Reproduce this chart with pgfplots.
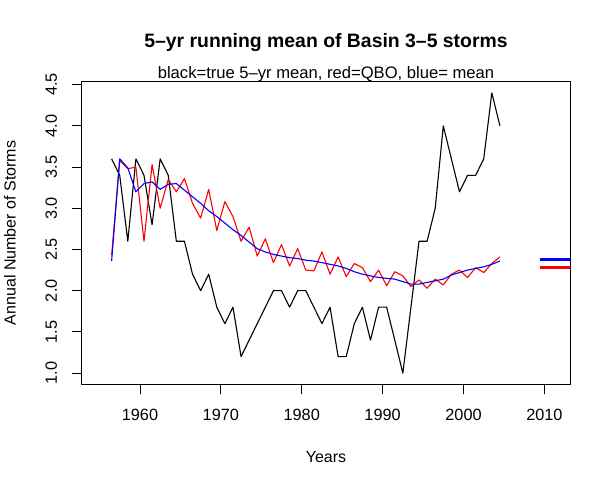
\documentclass[border=0pt]{standalone}
\usepackage{fontspec}
\setmainfont{Liberation Sans}
\usepackage{pgfplots}
\usepackage{pgfplotstable}
\pgfplotsset{compat=1.18}

% year, true 5-yr mean (black), QBO (red), mean (blue)
\pgfplotstableread{
year   true  qbo   mean
1956.5 3.6   2.43  2.36
1957.5 3.4   3.58  3.60
1958.5 2.6   3.48  3.49
1959.5 3.6   3.50  3.20
1960.5 3.4   2.60  3.30
1961.5 2.8   3.53  3.32
1962.5 3.6   3.00  3.23
1963.5 3.4   3.35  3.29
1964.5 2.6   3.20  3.30
1965.5 2.6   3.36  3.22
1966.5 2.2   3.06  3.14
1967.5 2.0   2.88  3.06
1968.5 2.2   3.23  2.97
1969.5 1.8   2.73  2.90
1970.5 1.6   3.08  2.82
1971.5 1.8   2.90  2.74
1972.5 1.2   2.60  2.67
1973.5 1.4   2.77  2.59
1974.5 1.6   2.42  2.51
1975.5 1.8   2.63  2.47
1976.5 2.0   2.34  2.44
1977.5 2.0   2.56  2.42
1978.5 1.8   2.30  2.40
1979.5 2.0   2.51  2.39
1980.5 2.0   2.25  2.37
1981.5 1.8   2.24  2.36
1982.5 1.6   2.47  2.34
1983.5 1.8   2.20  2.32
1984.5 1.2   2.41  2.30
1985.5 1.2   2.17  2.27
1986.5 1.6   2.33  2.23
1987.5 1.8   2.28  2.20
1988.5 1.4   2.11  2.18
1989.5 1.8   2.25  2.16
1990.5 1.8   2.06  2.15
1991.5 1.4   2.23  2.14
1992.5 1.0   2.18  2.11
1993.5 1.8   2.05  2.08
1994.5 2.6   2.13  2.08
1995.5 2.6   2.03  2.10
1996.5 3.0   2.14  2.12
1997.5 4.0   2.07  2.14
1998.5 3.6   2.20  2.19
1999.5 3.2   2.25  2.22
2000.5 3.4   2.16  2.25
2001.5 3.4   2.28  2.27
2002.5 3.6   2.22  2.29
2003.5 4.4   2.33  2.32
2004.5 4.0   2.41  2.36
}\storms

\begin{document}
\begin{tikzpicture}[font=\fontsize{16bp}{19bp}\selectfont]
\begin{axis}[
  scale only axis, width=488.6bp, height=302.6bp,
  xmin=1952.8, xmax=2013.2, ymin=0.864, ymax=4.536,
  clip mode=individual,
  axis line style={line width=0.8bp},
  xtick={1960,1970,...,2010}, ytick={1,1.5,...,4.5},
  xtick pos=bottom, ytick pos=left,
  tick align=outside, major tick length=10bp,
  tick style={black, line width=0.8bp},
  tick label style={font=\fontsize{16.3bp}{19bp}\selectfont,
    /pgf/number format/assume math mode=true},
  xticklabel shift=15bp, yticklabel shift=14.5bp,
  xticklabel style={/pgf/number format/1000 sep={}, anchor=north, inner sep=0pt},
  yticklabel style={/pgf/number format/fixed, /pgf/number format/fixed zerofill,
    /pgf/number format/precision=1, rotate=90, anchor=south, inner sep=0pt},
  xlabel={Years}, ylabel={Annual Number of Storms},
  every axis x label/.style={at={(axis description cs:0.5,-0.2578)}, anchor=base, inner sep=0pt},
  every axis y label/.style={at={(axis description cs:-0.1345,0.5)}, rotate=90, anchor=south, inner sep=0pt},
  title={\bfseries 5\textendash yr running mean of Basin 3\textendash5 storms},
  every axis title/.style={at={(axis description cs:0.5,1.1124)}, anchor=base, inner sep=0pt,
    font=\fontsize{19.4bp}{23bp}\selectfont},
  line join=round,
]
\addplot[black, line width=1.1bp] table[x=year, y=true] {\storms};
\addplot[red, line width=1.1bp] table[x=year, y=qbo] {\storms};
\addplot[blue, line width=1.1bp] table[x=year, y=mean] {\storms};
% overall levels at the right edge
\addplot[blue, line width=3.6bp] coordinates {(2009.4,2.38) (2014,2.38)};
\addplot[red, line width=3.6bp] coordinates {(2009.4,2.28) (2014,2.28)};
\node[anchor=base, inner sep=0pt, font=\fontsize{16.6bp}{19bp}\selectfont]
  at (axis description cs:0.5,1.0112)
  {black=true 5\textendash yr mean, red=QBO, blue= mean};
\coordinate (bl) at (axis description cs:0,0);
\coordinate (tr) at (axis description cs:1,1);
\end{axis}
\pgfresetboundingbox
\path ([shift={(-81.7bp,-103.7bp)}]bl) rectangle ([shift={(43.7bp,81.7bp)}]tr);
\end{tikzpicture}
\end{document}
